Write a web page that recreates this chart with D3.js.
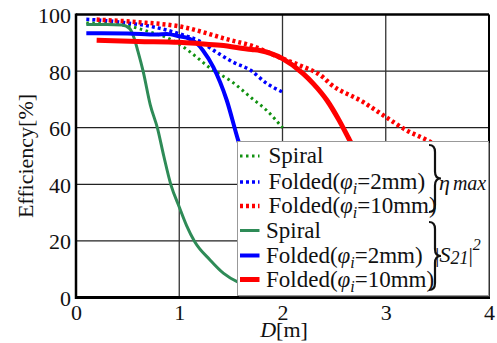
<!DOCTYPE html>
<html>
<head>
<meta charset="utf-8">
<script src="https://cdn.jsdelivr.net/npm/d3@7"></script>
<style>
  body { margin: 0; background: #fff; }
  svg, svg text, svg tspan { font-family: 'Liberation Serif', 'Times New Roman', Times, serif !important; }
  svg text { fill: #111; }
</style>
</head>
<body>
<div id="chart"></div>
<script>
// tick labels
const xTicks = [0, 1, 2, 3, 4];
const yTicks = [0, 20, 40, 60, 80, 100];

// eta_max curves (dotted)
const spiralEtaD = [0.1, 0.3, 0.5, 0.7, 0.9, 1.0, 1.2, 1.3, 1.5, 1.7, 1.85, 2.0];
const spiralEta = [97, 96.8, 96, 94, 91.5, 89.5, 84, 81, 76.5, 70.5, 66, 60];
const folded2EtaD = [0.1, 0.3, 0.5, 0.75, 1.0, 1.2, 1.36, 1.52, 1.69, 1.85, 2.0];
const folded2Eta = [98.3, 97.8, 97, 95.6, 93.2, 90.5, 86.7, 83.2, 80.3, 75.6, 72.6];
const folded10EtaD = [0.2, 0.6, 1.0, 1.5, 1.7, 2.0, 2.17, 2.39, 2.46, 2.78, 3.0, 3.2, 3.4, 3.7, 4.0];
const folded10Eta = [98.2, 97.3, 95.8, 90.9, 89, 84.4, 82, 77.9, 75.6, 69.1, 63.8, 59.1, 55.6, 49, 41.5];

// |S21|^2 curves (solid)
const spiralS21D = [0.1, 0.3, 0.45, 0.52, 0.56, 0.6, 0.65, 0.72, 0.79, 0.85, 0.92, 1.0, 1.07, 1.15, 1.3, 1.43, 1.56, 1.7, 2.0];
const spiralS21 = [96.5, 96.5, 96.3, 95, 92, 87, 80, 68, 59.7, 50, 39.7, 32, 25.5, 19.7, 13.2, 8.5, 5.6, 4, 2.5];
const folded2S21D = [0.1, 0.5, 0.78, 0.88, 1.0, 1.1, 1.17, 1.23, 1.33, 1.46, 1.57, 1.7, 1.9, 2.1, 2.4];
const folded2S21 = [93.4, 93.3, 92.9, 93.1, 92.3, 91.4, 89.8, 87.3, 81.4, 69.7, 55.6, 42, 26, 15, 7];
const folded10S21D = [0.2, 0.6, 1.0, 1.2, 1.4, 1.7, 1.78, 2.0, 2.2, 2.3, 2.43, 2.55, 2.65, 2.8, 3.0, 3.3, 3.6, 4.0];
const folded10S21 = [90.9, 90.5, 90.2, 89.7, 89.1, 87.6, 87.3, 84.4, 79.1, 75.5, 69.7, 62.5, 55.6, 46, 36, 25, 17, 10];

const series = [
  { d: spiralEtaD, v: spiralEta, color: '#119111', width: 3, dash: '2.5,3.5' },
  { d: folded2EtaD, v: folded2Eta, color: '#0000ff', width: 3.5, dash: '3,3' },
  { d: folded10EtaD, v: folded10Eta, color: '#ff0000', width: 4.5, dash: '3,3' },
  { d: spiralS21D, v: spiralS21, color: '#2e8b57', width: 3, dash: null },
  { d: folded2S21D, v: folded2S21, color: '#0000ff', width: 4, dash: null },
  { d: folded10S21D, v: folded10S21, color: '#ff0000', width: 5, dash: null },
];

const FONT = "'Liberation Serif', 'Times New Roman', serif";
const W = 497, H = 343;
const margin = { top: 14.5, right: 8, bottom: 45.5, left: 76 };
const width = W - margin.left - margin.right;
const height = H - margin.top - margin.bottom;

const svg = d3.select('#chart').append('svg')
  .attr('width', W).attr('height', H)
  .style('font-family', FONT);

const g = svg.append('g').attr('transform', `translate(${margin.left},${margin.top})`);

const x = d3.scaleLinear().domain([0, 4]).range([0, width]);
const y = d3.scaleLinear().domain([0, 100]).range([height, 0]);

// grid
g.append('g').selectAll('line').data([20, 40, 60, 80]).enter().append('line')
  .attr('x1', 0).attr('x2', width)
  .attr('y1', d => y(d)).attr('y2', d => y(d))
  .attr('stroke', '#222').attr('stroke-width', 1.3);
g.append('g').selectAll('line').data([1, 2, 3]).enter().append('line')
  .attr('x1', d => x(d)).attr('x2', d => x(d))
  .attr('y1', 0).attr('y2', height)
  .attr('stroke', '#333').attr('stroke-width', 1.3);

// curves
g.append('clipPath').attr('id', 'plotclip')
  .append('rect').attr('width', width).attr('height', height);

const line = d3.line().x(p => x(p[0])).y(p => y(p[1])).curve(d3.curveMonotoneX);
const curves = g.append('g').attr('clip-path', 'url(#plotclip)');
series.forEach(s => {
  curves.append('path')
    .datum(s.d.map((d, i) => [d, s.v[i]]))
    .attr('d', line)
    .attr('fill', 'none')
    .attr('stroke', s.color)
    .attr('stroke-width', s.width)
    .attr('stroke-dasharray', s.dash);
});

// axes (ticks hidden, frame drawn by hand)
const xAxis = g.append('g').attr('transform', `translate(0,${height})`)
  .call(d3.axisBottom(x).tickValues(xTicks).tickFormat(d3.format('d')).tickSize(0).tickPadding(0));
xAxis.attr('font-family', FONT).attr('font-size', 22);
xAxis.select('.domain').remove();
xAxis.selectAll('text').attr('dy', 22).attr('fill', '#111');

const yAxis = g.append('g')
  .call(d3.axisLeft(y).tickValues(yTicks).tickFormat(d3.format('d')).tickSize(0).tickPadding(5));
yAxis.attr('font-family', FONT).attr('font-size', 22);
yAxis.select('.domain').remove();
yAxis.selectAll('text').attr('dy', 8).attr('fill', '#111');

// frame
g.append('line').attr('x1', 0).attr('x2', width).attr('y1', 0).attr('y2', 0).attr('stroke', '#000').attr('stroke-width', 2.5);
g.append('line').attr('x1', width).attr('x2', width).attr('y1', 0).attr('y2', height).attr('stroke', '#000').attr('stroke-width', 2);
g.append('line').attr('x1', 0).attr('x2', 0).attr('y1', -1).attr('y2', height + 1.5).attr('stroke', '#000').attr('stroke-width', 2.5);
g.append('line').attr('x1', -1).attr('x2', width + 1).attr('y1', height).attr('y2', height).attr('stroke', '#000').attr('stroke-width', 3);

// axis titles
const xt = svg.append('text').attr('x', 284).attr('y', 337).attr('text-anchor', 'middle').attr('font-size', 22);
xt.append('tspan').attr('font-style', 'italic').text('D');
xt.append('tspan').text('[m]');

svg.append('text')
  .attr('transform', `translate(33,${margin.top + height / 2}) rotate(-90)`)
  .attr('text-anchor', 'middle').attr('font-size', 22)
  .text('Efficiency[%]');

// legend
const lg = svg.append('g');
const lx = 237.5, ly = 141.5, lw = 251, lh = 154;
lg.append('rect').attr('x', lx + 1.5).attr('y', ly + 1.5).attr('width', lw).attr('height', lh).attr('fill', '#333');
lg.append('rect').attr('x', lx).attr('y', ly).attr('width', lw).attr('height', lh)
  .attr('fill', '#fff').attr('stroke', '#999').attr('stroke-width', 1);

const labels = ['Spiral', 'Folded|2mm', 'Folded|10mm', 'Spiral', 'Folded|2mm', 'Folded|10mm'];
const rowY = [156, 182, 206, 230.5, 255.5, 279.5];
labels.forEach((lab, i) => {
  const s = series[i];
  lg.append('line').attr('x1', 240).attr('x2', 259.5)
    .attr('y1', rowY[i]).attr('y2', rowY[i])
    .attr('stroke', s.color).attr('stroke-width', s.width)
    .attr('stroke-dasharray', s.dash);
  const t = lg.append('text').attr('x', i < 3 ? 268.5 : 266).attr('y', rowY[i] + 7).attr('font-size', 23);
  if (lab === 'Spiral') {
    t.text('Spiral');
  } else {
    const val = lab.split('|')[1];
    t.append('tspan').text('Folded(');
    t.append('tspan').attr('font-style', 'italic').text('φ');
    t.append('tspan').attr('font-style', 'italic').attr('font-size', 16).attr('dy', 5).text('i');
    t.append('tspan').attr('dy', -5).text('=' + val + ')');
  }
});

// braces
function brace(x0, y0, y1, w) {
  const ym = (y0 + y1) / 2, xm = x0 + w * 0.5, r = 7;
  return `M${x0},${y0} Q${xm},${y0} ${xm},${y0 + r} L${xm},${ym - r} Q${xm},${ym} ${x0 + w},${ym}` +
    ` Q${xm},${ym} ${xm},${ym + r} L${xm},${y1 - r} Q${xm},${y1} ${x0},${y1}`;
}
lg.append('path').attr('d', brace(429, 145, 212, 12)).attr('fill', 'none').attr('stroke', '#111').attr('stroke-width', 2.2);
lg.append('path').attr('d', brace(429, 222, 290, 12)).attr('fill', 'none').attr('stroke', '#111').attr('stroke-width', 2.2);

const eta = lg.append('text').attr('x', 439).attr('y', 190).attr('font-size', 22).attr('font-style', 'italic');
eta.append('tspan').text('η');
eta.append('tspan').attr('font-size', 20).attr('dx', 3).text('max');

const s21 = lg.append('text').attr('x', 435).attr('y', 262).attr('font-size', 22).attr('font-style', 'italic');
s21.append('tspan').attr('font-style', 'normal').text('|');
s21.append('tspan').text('S');
s21.append('tspan').attr('font-size', 18).attr('dy', 2).text('21');
s21.append('tspan').attr('font-style', 'normal').attr('dy', -2).text('|');
s21.append('tspan').attr('font-size', 16).attr('dy', -12).text('2');
</script>
</body>
</html>
